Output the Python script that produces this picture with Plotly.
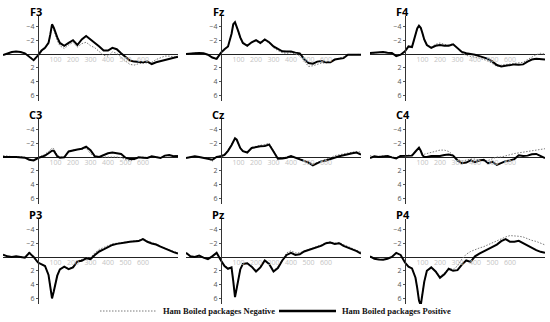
import plotly.graph_objects as go

# time axis (ms), denser around the early peak
TIME_MS = [-200, -175, -150, -125, -100, -75, -50, -25, 0,
           20, 40, 60, 70, 80, 90, 100, 110, 125,
           150, 175, 200, 225, 250, 275, 300, 325, 350, 375, 400, 425, 450,
           475, 500, 525, 550, 575, 600, 625, 650, 675, 700, 725, 750, 775, 800]

# amplitudes (uV) -- negative = dotted, positive = solid
F3_NEG = [0.1, -0.1, -0.3, -0.4, -0.3, -0.1, 0.3, 0.8, 0.2,
          -0.4, -0.8, -1.5, -2.6, -4.1, -3.5, -2.6, -1.9, -1.2,
          -0.8, -1.3, -1.7, -1.0, -1.5, -1.7, -1.2, -0.9, -0.3, 0.2, 0.3, -0.3, -0.1,
          0.5, 1.0, 1.5, 1.6, 1.4, 1.3, 1.2, 1.2, 0.8, 0.5, 0.3, 0.3, 0.4, 0.5]
F3_POS = [0.15, -0.1, -0.3, -0.35, -0.3, -0.1, 0.4, 0.9, 0.2,
          -0.5, -0.9, -1.6, -2.8, -4.3, -3.8, -3.0, -2.4, -1.6,
          -1.2, -1.6, -2.0, -1.3, -2.1, -2.6, -2.1, -1.7, -1.1, -0.5, -0.5, -0.9, -0.7,
          -0.1, 0.5, 0.95, 1.1, 1.2, 1.2, 1.1, 1.45, 1.2, 1.05, 0.9, 0.65, 0.5, 0.4]

FZ_NEG = [0.05, -0.1, -0.15, -0.1, -0.1, 0.1, 0.5, 0.8, -0.1,
          -0.7, -1.1, -2.8, -4.2, -4.6, -3.9, -3.1, -2.3, -1.5,
          -1.2, -1.6, -1.9, -1.5, -2.0, -1.6, -0.9, -0.5, -0.2, -0.1, -0.2, 0.0, 0.3,
          1.0, 1.8, 1.7, 1.5, 1.3, 1.3, 1.1, 0.9, 0.6, 0.4, 0.1, 0.1, 0.05, 0.05]
FZ_POS = [0.0, -0.1, -0.1, -0.15, -0.1, 0.1, 0.5, 0.7, -0.2,
          -0.7, -1.1, -2.9, -4.3, -4.6, -4.0, -3.2, -2.4, -1.6,
          -1.2, -1.7, -2.0, -1.6, -2.1, -1.7, -1.1, -0.7, -0.4, -0.35, -0.35, -0.2, -0.1,
          0.7, 1.3, 1.4, 1.1, 1.0, 1.2, 1.2, 0.8, 0.7, 0.6, 0.1, 0.1, 0.1, 0.1]

F4_NEG = [-0.1, -0.2, -0.25, -0.3, -0.2, -0.1, 0.2, 0.1, -0.3,
          -1.0, -1.0, -2.7, -3.6, -4.0, -3.7, -2.9, -2.0, -1.3,
          -1.0, -1.4, -1.6, -1.4, -1.3, -1.5, -0.8, -0.1, 0.2, 0.3, 0.4, 0.6, 0.8,
          1.0, 1.4, 1.8, 1.6, 1.5, 1.5, 1.4, 1.3, 1.2, 0.8, 0.4, 0.1, -0.1, 0.0]
F4_POS = [-0.15, -0.2, -0.2, -0.3, -0.2, -0.15, 0.3, 0.1, -0.4,
          -1.1, -1.0, -2.8, -3.7, -4.1, -3.8, -3.0, -2.1, -1.3,
          -0.9, -1.2, -1.3, -1.2, -1.2, -1.4, -0.9, -0.3, -0.1, -0.05, 0.1, 0.3, 0.5,
          0.7, 1.1, 1.6, 1.8, 1.7, 1.6, 1.5, 1.55, 1.5, 1.1, 0.8, 0.7, 0.75, 0.8]

C3_NEG = [-0.2, -0.1, -0.05, 0.0, -0.05, 0.05, 0.3, 0.4, 0.1,
          -0.1, -0.4, -0.8, -1.1, -1.3, -1.2, -0.8, -0.3, 0.0,
          0.0, -0.7, -1.0, -1.1, -1.1, -1.3, -0.5, 0.0, 0.0, 0.0, -0.1, 0.0, 0.0,
          0.1, 0.4, 0.6, 0.4, 0.1, 0.0, 0.1, -0.1, 0.0, 0.1, -0.2, -0.2, -0.1, -0.2]
C3_POS = [0.0, -0.05, 0.0, 0.0, 0.0, 0.1, 0.4, 0.5, 0.15,
          0.0, -0.2, -0.55, -0.8, -0.9, -0.9, -0.55, -0.1, 0.1,
          0.05, -0.8, -1.0, -1.1, -1.2, -1.5, -1.0, -0.1, 0.0, -0.3, -0.55, -0.65, -0.6,
          -0.45, 0.1, 0.3, 0.3, 0.05, 0.1, 0.15, -0.1, 0.0, 0.15, -0.2, -0.3, -0.1, -0.15]

CZ_NEG = [0.1, 0.0, -0.1, 0.0, 0.1, 0.2, 0.6, 0.0, -0.2,
          -0.4, -1.0, -1.8, -2.3, -2.7, -2.4, -1.8, -1.3, -0.9,
          -0.7, -1.4, -1.6, -1.7, -1.8, -2.0, -0.9, 0.2, 0.15, 0.0, -0.2, 0.0, 0.2,
          0.4, 0.7, 1.0, 0.8, 0.5, 0.3, 0.1, -0.2, -0.35, -0.5, -0.6, -0.7, -0.8, -0.7]
CZ_POS = [0.15, 0.0, -0.1, 0.0, 0.1, 0.2, 0.4, 0.0, -0.1,
          -0.3, -0.9, -1.7, -2.2, -2.7, -2.5, -1.75, -1.3, -0.85,
          -0.65, -1.3, -1.45, -1.55, -1.6, -1.8, -0.8, 0.25, 0.2, 0.1, -0.15, 0.1, 0.3,
          0.5, 0.8, 1.2, 0.95, 0.6, 0.5, 0.3, 0.0, -0.1, -0.25, -0.45, -0.55, -0.65, -0.35]

C4_NEG = [-0.2, 0.0, -0.1, -0.1, -0.2, 0.0, 0.1, -0.2, -0.2,
          -0.2, -0.3, -0.8, -1.0, -1.2, -0.9, -0.5, -0.4, -0.5,
          -0.6, -0.8, -1.0, -1.0, -0.8, -0.3, 0.3, 0.6, 0.4, 0.3, 0.3, 0.4, 0.6,
          0.5, 0.2, 0.0, 0.0, -0.2, -0.4, -0.5, -0.6, -0.7, -0.8, -0.9, -0.9, -1.1, -1.2]
C4_POS = [0.15, -0.1, 0.0, -0.1, -0.15, 0.05, 0.2, -0.15, -0.15,
          -0.15, -0.2, -0.8, -1.1, -1.35, -0.9, -0.25, 0.0, 0.0,
          -0.15, -0.15, -0.15, -0.3, -0.35, -0.2, 0.5, 0.9, 0.8, 0.5, 0.75, 0.5, 0.4,
          0.9, 0.7, 1.15, 0.9, 0.6, 0.5, 0.3, -0.25, -0.15, -0.2, -0.4, -0.45, -0.1, 0.15]

P3_NEG = [-0.3, -0.1, 0.0, -0.1, 0.0, 0.0, -0.8, 0.1, 0.8,
          1.0, 1.3, 2.5, 4.1, 5.8, 4.9, 3.7, 2.6, 1.8,
          1.4, 1.7, 1.4, 0.6, 0.4, 0.1, 0.1, -0.6, -1.1, -1.4, -1.7, -1.9, -2.0,
          -2.1, -2.2, -2.3, -2.4, -2.4, -2.7, -2.3, -2.1, -1.9, -1.6, -1.3, -1.0, -0.8, -0.6]
P3_POS = [-0.35, -0.1, 0.0, -0.1, 0.0, 0.1, -0.6, 0.0, 0.8,
          1.0, 1.3, 2.6, 4.3, 6.0, 5.0, 3.8, 2.7, 1.8,
          1.4, 1.75, 1.5, 0.65, 0.55, 0.2, 0.3, -0.3, -0.8, -1.1, -1.4, -1.75, -1.9,
          -2.05, -2.1, -2.2, -2.3, -2.3, -2.6, -2.2, -1.95, -1.8, -1.5, -1.2, -1.0, -0.7, -0.5]

PZ_NEG = [-0.5, -0.1, 0.0, -0.2, 0.1, 0.3, -0.2, -0.6, 0.5,
          1.2, 1.6, 1.5, 3.4, 5.6, 4.4, 2.8, 1.7, 1.0,
          0.9, 1.3, 2.0, 1.4, 0.4, 0.9, 2.0, 1.4, 0.3, -0.6, -0.9, -0.6, -0.6,
          -0.9, -1.1, -1.3, -1.5, -1.8, -2.1, -2.2, -2.0, -2.1, -1.8, -1.5, -1.3, -1.0, -0.7]
PZ_POS = [-0.6, -0.1, 0.0, -0.2, 0.1, 0.3, -0.1, -0.6, 0.5,
          1.3, 1.7, 1.5, 3.5, 5.8, 4.5, 2.9, 1.8, 1.0,
          0.9, 1.4, 2.1, 1.5, 0.5, 1.0, 2.1, 1.6, 0.5, -0.3, -0.6, -0.3, -0.4,
          -0.8, -1.0, -1.2, -1.45, -1.65, -2.0, -2.1, -1.9, -2.0, -1.6, -1.3, -1.1, -0.85, -0.5]

P4_NEG = [-0.1, 0.2, 0.3, 0.35, 0.2, 0.0, -0.6, -0.3, 0.8,
          1.4, 1.6, 2.9, 4.4, 6.2, 6.9, 5.4, 3.5, 2.0,
          1.5, 2.0, 2.8, 2.3, 1.6, 1.8, 1.3, 0.3, -0.4, -0.8, -1.1, -1.3, -1.5,
          -1.8, -2.1, -2.4, -2.6, -2.9, -3.1, -3.1, -3.0, -2.9, -2.6, -2.4, -2.25, -2.0, -1.75]
P4_POS = [-0.1, 0.25, 0.35, 0.4, 0.25, 0.0, -0.6, -0.3, 0.8,
          1.4, 1.65, 3.0, 4.5, 6.3, 7.0, 5.5, 3.6, 2.0,
          1.5, 2.1, 3.0, 2.5, 1.7, 2.0, 1.9, 1.1, 0.5, 0.7, -0.1, -0.5, -0.8,
          -1.1, -1.5, -1.8, -2.3, -2.6, -2.2, -2.2, -2.35, -2.0, -1.6, -1.3, -1.0, -0.75, -0.6]

PANELS = [("F3", F3_NEG, F3_POS), ("Fz", FZ_NEG, FZ_POS), ("F4", F4_NEG, F4_POS),
          ("C3", C3_NEG, C3_POS), ("Cz", CZ_NEG, CZ_POS), ("C4", C4_NEG, C4_POS),
          ("P3", P3_NEG, P3_POS), ("Pz", PZ_NEG, PZ_POS), ("P4", P4_NEG, P4_POS)]

NEG_NAME = "Ham Boiled packages Negative"
POS_NAME = "Ham Boiled packages Positive"
X_TICKS = [100, 200, 300, 400, 500, 600]
Y_TICKS = [-4, -2, 2, 4, 6]

X_RANGE = [-200, 800]
Y_RANGE = [6.8, -5.5]  # negative up
COL_DOMAINS = [(0.0055, 0.3236), (0.3382, 0.6564), (0.6727, 0.9909)]
ROW_DOMAINS = [(0.6863, 0.9503), (0.3665, 0.6304), (0.0559, 0.3199)]

NEG_LINE = dict(color="#7a7a7a", width=1, dash="1.5px,1.5px")
POS_LINE = dict(color="black", width=2)

fig = go.Figure()
layout = {}
for i, (name, neg, pos) in enumerate(PANELS):
    r, c = divmod(i, 3)
    sfx = "" if i == 0 else str(i + 1)
    x0, x1 = COL_DOMAINS[c]
    y0, y1 = ROW_DOMAINS[r]
    # paper positions of the x=0 and y=0 lines
    xpos = x0 + (x1 - x0) * (0 - X_RANGE[0]) / (X_RANGE[1] - X_RANGE[0])
    ypos = y0 + (y1 - y0) * (Y_RANGE[0] - 0) / (Y_RANGE[0] - Y_RANGE[1])

    fig.add_trace(go.Scatter(
        x=TIME_MS, y=neg, xaxis="x" + sfx, yaxis="y" + sfx, mode="lines",
        line=NEG_LINE, name=NEG_NAME, showlegend=False,
    ))
    fig.add_trace(go.Scatter(
        x=TIME_MS, y=pos, xaxis="x" + sfx, yaxis="y" + sfx, mode="lines",
        line=POS_LINE, name=POS_NAME, showlegend=False,
    ))

    layout["xaxis" + sfx] = dict(
        domain=[x0, x1], range=X_RANGE, anchor="free", position=ypos,
        showline=False, showgrid=False, zeroline=False,
        tickvals=X_TICKS, ticks="", tickfont=dict(size=7, color="#c4c4c4"),
    )
    layout["yaxis" + sfx] = dict(
        domain=[y0, y1], range=Y_RANGE, anchor="free", position=xpos,
        showline=True, linecolor="#333", linewidth=1,
        zeroline=True, zerolinecolor="#222", zerolinewidth=1, showgrid=False,
        tickvals=Y_TICKS, ticks="outside", ticklen=2, tickcolor="#555",
        tickfont=dict(size=7, color="#555"),
    )
    fig.add_annotation(
        text="<b>" + name + "</b>", xref="paper", yref="paper",
        x=xpos - 0.004, y=y1 + 0.015, xanchor="center", yanchor="middle",
        showarrow=False, font=dict(family="Open Sans, sans-serif", size=11, color="black"),
    )

# legend drawn by hand so the line samples match the original length
LEG_Y = 1 - 311 / 322
legend_items = [(100 / 550, 157 / 550, NEG_LINE, NEG_NAME),
                (279 / 550, 336 / 550, dict(color="black", width=2.5), POS_NAME)]
for lx0, lx1, lstyle, label in legend_items:
    fig.add_shape(type="line", xref="paper", yref="paper",
                  x0=lx0, x1=lx1, y0=LEG_Y, y1=LEG_Y, line=lstyle)
    fig.add_annotation(
        text="<b>" + label + "</b>", xref="paper", yref="paper",
        x=lx1 + 4 / 550, y=LEG_Y, xanchor="left", yanchor="middle", showarrow=False,
        font=dict(family="Liberation Serif, serif", size=8.5, color="#111"),
    )

fig.update_layout(
    **layout,
    width=550, height=322,
    margin=dict(l=0, r=0, t=0, b=0),
    paper_bgcolor="white", plot_bgcolor="white",
    font=dict(family="Open Sans, sans-serif"),
    showlegend=False,
)

# the page body has a default 8px margin; drop it so the figure fills the window
fig.write_html("out.html", config={"displayModeBar": False},
               post_script="document.body.style.margin = '0px';")
